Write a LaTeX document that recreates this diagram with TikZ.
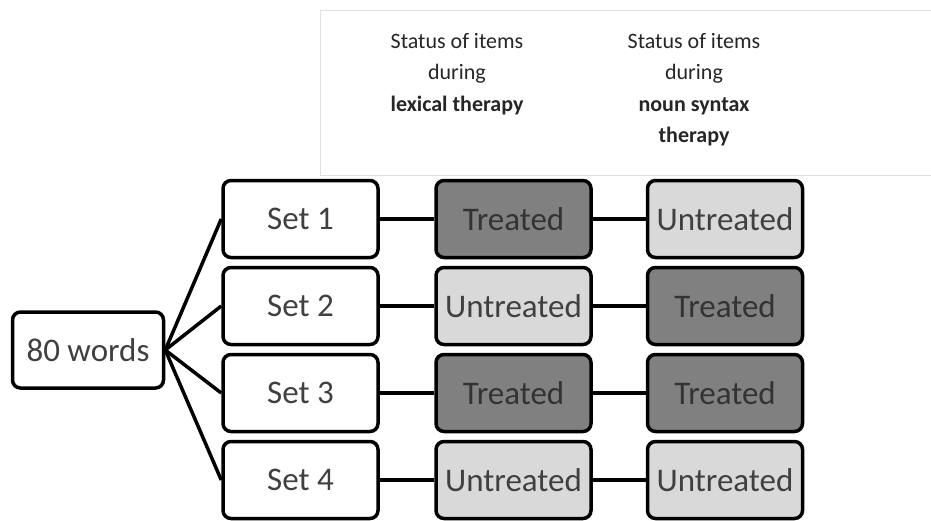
\documentclass[tikz,border=0pt]{standalone}
\usepackage{fontspec}
\setmainfont{Carlito}
\begin{document}
\begin{tikzpicture}[x=1pt,y=-1pt,
  box/.style={draw=black,line width=3.5pt,rounded corners=8pt,minimum width=155pt,minimum height=77pt,inner sep=0pt,
    font=\fontsize{33}{36}\selectfont,text=black!75},
  plain/.style={box,fill=white},
  dark/.style={box,fill=black!50,text=black!80},
  light/.style={box,fill=black!15},
  link/.style={line width=3.5pt},
  head/.style={align=center,font=\fontsize{22}{31.5}\selectfont,text=black!85,inner sep=0pt}]
\useasboundingbox (0,0) rectangle (931,520);
\begin{scope}
\clip (0,0) rectangle (931,520);
\draw[draw=black!12,line width=1pt,fill=white] (320,10) rectangle (940,175);
\end{scope}
\node[head,anchor=north] (h1) at (457,33) {Status of items\\during\\\textbf{lexical therapy}};
\node[head,anchor=north] (h2) at (694,33) {Status of items\\during\\\textbf{noun syntax}\\\textbf{therapy}};
\node[plain,minimum width=151pt,minimum height=76pt] (w) at (88,350) {80 words};
\node[plain] (s1) at (300.5,219) {Set 1};
\node[plain] (s2) at (300.5,306) {Set 2};
\node[plain] (s3) at (300.5,393) {Set 3};
\node[plain] (s4) at (300.5,480) {Set 4};
\node[dark]  (a1) at (513.5,219) {Treated};
\node[light] (a2) at (513.5,306) {Untreated};
\node[dark]  (a3) at (513.5,393) {Treated};
\node[light] (a4) at (513.5,480) {Untreated};
\node[light] (b1) at (725,219) {Untreated};
\node[dark]  (b2) at (725,306) {Treated};
\node[dark]  (b3) at (725,393) {Treated};
\node[light] (b4) at (725,480) {Untreated};
\foreach \i in {1,2,3,4}{
  \draw[link] (w.east) -- (s\i.west);
  \draw[link] (s\i.east) -- (a\i.west);
  \draw[link] (a\i.east) -- (b\i.west);
}
\end{tikzpicture}
\end{document}
